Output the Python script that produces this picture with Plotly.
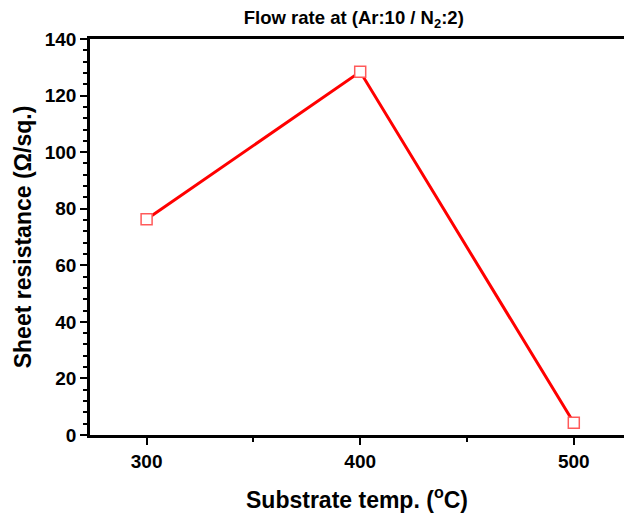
import plotly.graph_objects as go

temps = [300, 400, 500]
resistance = [76.3, 128.4, 4.3]
x_ticks = [300, 400, 500]
y_ticks = [0, 20, 40, 60, 80, 100, 120, 140]

fig = go.Figure()
fig.add_trace(go.Scatter(
    x=temps, y=resistance, mode="lines+markers",
    line=dict(color="#ff0000", width=3),
    marker=dict(symbol="square", size=11, color="white",
                line=dict(color="#ff5a5a", width=1.5)),
    showlegend=False, cliponaxis=False,
))

font = "Liberation Sans, Arial, sans-serif"
fig.update_layout(
    width=624, height=514,
    margin=dict(l=90, r=0, t=39, b=79),
    paper_bgcolor="white", plot_bgcolor="white",
    title=dict(text="<b>Flow rate at (Ar:10 / N<sub>2</sub>:2)</b>",
               x=0.567, xanchor="center", y=0.965, yanchor="middle",
               font=dict(family=font, size=18.5, color="black")),
    xaxis=dict(
        range=[273.5, 523.5], tickvals=x_ticks,
        ticktext=[f"<b>{v}</b>" for v in x_ticks],
        ticks="outside", ticklen=7, tickwidth=2, tickcolor="black",
        minor=dict(dtick=50, tick0=0, ticks="outside", ticklen=4, tickwidth=2, tickcolor="black"),
        showline=True, linewidth=2.5, linecolor="black", mirror=True,
        showgrid=False, zeroline=False, automargin=False,
        tickfont=dict(family=font, size=19, color="black"),
        title=dict(text="<b>Substrate temp. (<sup>o</sup>C)</b>", standoff=22,
                   font=dict(family=font, size=23, color="black")),
    ),
    yaxis=dict(
        range=[0, 140], tickvals=y_ticks,
        ticktext=[f"<b>{v}</b>" for v in y_ticks],
        ticks="outside", ticklen=7, tickwidth=2, tickcolor="black",
        minor=dict(dtick=4, tick0=0, ticks="outside", ticklen=4, tickwidth=2, tickcolor="black"),
        showline=True, linewidth=2.5, linecolor="black",
        showgrid=False, zeroline=False, automargin=False,
        tickfont=dict(family=font, size=19, color="black"),
        title=dict(text="<b>Sheet resistance (Ω/sq.)</b>", standoff=7,
                   font=dict(family=font, size=23, color="black")),
    ),
)

fig.write_html(
    "out.html",
    config={"displayModeBar": False},
    post_script="document.body.style.margin='0';document.body.style.overflow='hidden';",
)
